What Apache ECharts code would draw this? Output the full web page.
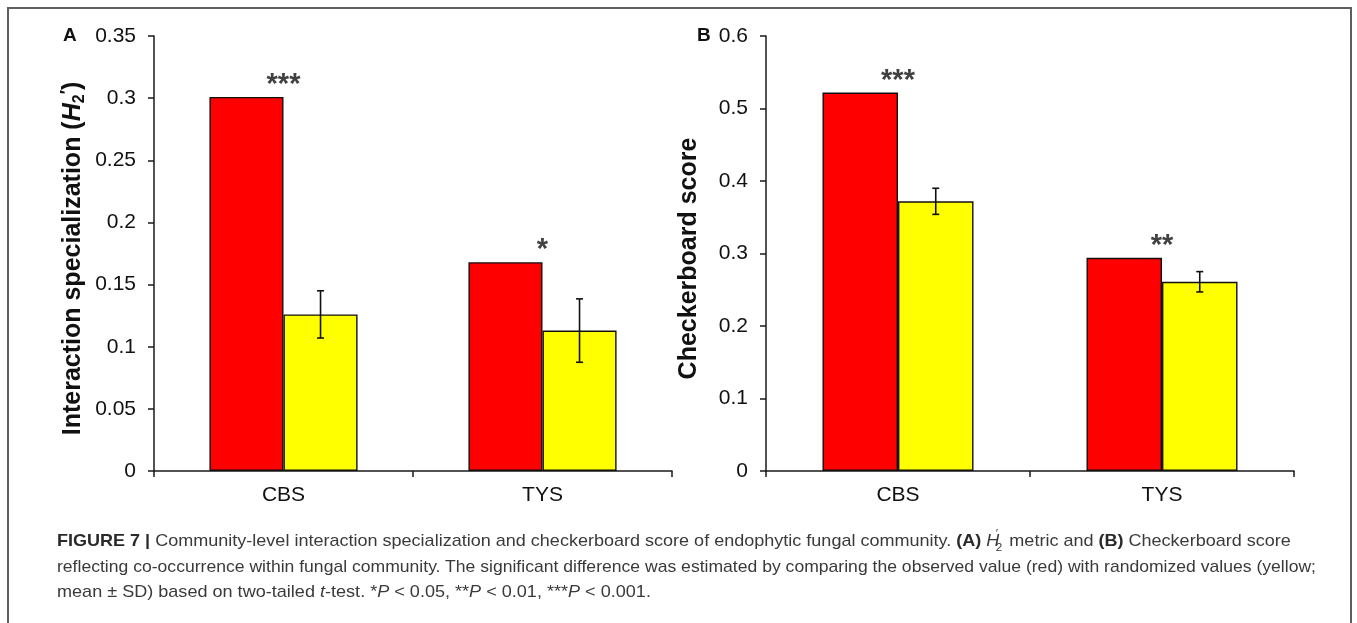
<!DOCTYPE html>
<html>
<head>
<meta charset="utf-8">
<script src="https://cdn.jsdelivr.net/npm/echarts@6/dist/echarts.min.js"></script>
<style>
  html, body { margin:0; padding:0; background:#fff; }
  #wrap { position:relative; width:1357px; height:623px; overflow:hidden; background:#fff; }
  #frame { position:absolute; left:7px; top:7px; width:1345px; height:720px; border:2px solid #5f5f5f; box-sizing:border-box; }
  #chart { position:absolute; left:0; top:0; width:1357px; height:623px; }
  .cap { position:absolute; left:57px; white-space:nowrap; font-family:"Liberation Sans Narrow","Liberation Sans",Arial,sans-serif; font-size:17px; line-height:20px; color:#3a3a3a; transform-origin:0 50%; }
  .cap b { color:#2a2a2a; }
  .h2 { position:relative; display:inline-block; }
  .h2 .s { position:absolute; left:9px; font-size:11px; line-height:11px; }
</style>
</head>
<body>
<div id="wrap">
  <div id="frame"></div>
  <div id="chart"></div>
  <div class="cap" id="cap1"><b>FIGURE 7 |</b> Community-level interaction specialization and checkerboard score of endophytic fungal community. <b>(A)</b> <span class="h2"><i>H</i>&nbsp;<span class="s" style="top:11px">2</span><span class="s" style="top:-3px">′</span></span> metric and <b>(B)</b> Checkerboard score</div>
  <div class="cap" id="cap2">reflecting co-occurrence within fungal community. The significant difference was estimated by comparing the observed value (red) with randomized values (yellow;</div>
  <div class="cap" id="cap3">mean ± SD) based on two-tailed <i>t</i>-test. *<i>P</i> &lt; 0.05, **<i>P</i> &lt; 0.01, ***<i>P</i> &lt; 0.001.</div>
</div>
<script>
// ---- data ----
const categories = ['CBS', 'TYS'];
// Panel A: interaction specialization (H2')
const observedA = [0.301, 0.168];
const randomA = [0.126, 0.113];
const sdA = [0.019, 0.0255];
const sigA = ['***', '*'];
// Panel B: checkerboard score
const observedB = [0.522, 0.294];
const randomB = [0.372, 0.261];
const sdB = [0.018, 0.014];
const sigB = ['***', '**'];

const BAR_FRAC = 0.286;
const FONT = '"Liberation Sans", Arial, sans-serif';

// caption line fitting (layout)
const capLayout = [
  { id: 'cap1', center: 541, width: 1234 },
  { id: 'cap2', center: 567, width: 1259 },
  { id: 'cap3', center: 592, width: 594 }
];
capLayout.forEach(c => {
  const el = document.getElementById(c.id);
  el.style.top = (c.center - 10) + 'px';
  const w = el.scrollWidth;
  el.style.transform = 'scaleX(' + (c.width / w) + ')';
});

const chart = echarts.init(document.getElementById('chart'), null, { renderer: 'canvas' });

function errRender(params, api) {
  const ci = api.value(0), v = api.value(1), sd = api.value(2);
  const c = api.coord([ci, v]);
  const bw = api.size([1, 0])[0] * BAR_FRAC;
  const x = c[0] + bw / 2;
  const yHi = api.coord([ci, v + sd])[1];
  const yLo = api.coord([ci, v - sd])[1];
  const st = { stroke: '#111', lineWidth: 1.6 };
  const cap = 3.5;
  return {
    type: 'group',
    children: [
      { type: 'line', shape: { x1: x, y1: yHi, x2: x, y2: yLo }, style: st },
      { type: 'line', shape: { x1: x - cap, y1: yHi, x2: x + cap, y2: yHi }, style: st },
      { type: 'line', shape: { x1: x - cap, y1: yLo, x2: x + cap, y2: yLo }, style: st }
    ]
  };
}

function xAxis(gi) {
  return {
    type: 'category', gridIndex: gi, data: categories,
    axisLine: { lineStyle: { color: '#1a1a1a', width: 1.5 } },
    axisTick: { show: true, inside: false, length: 6, lineStyle: { color: '#1a1a1a', width: 1.5 } },
    axisLabel: { fontSize: 21, color: '#111', fontFamily: FONT, margin: 14 },
    splitLine: { show: false }
  };
}
function yAxis(gi, max, interval, name, nameGap, rich) {
  return {
    type: 'value', gridIndex: gi, min: 0, max: max, interval: interval,
    name: name, nameLocation: 'middle', nameGap: nameGap, nameRotate: 90,
    nameTextStyle: { fontSize: 25, fontWeight: 'bold', color: '#111', fontFamily: FONT, lineHeight: 29, padding: [0, 10, 0, 0], rich: rich || {} },
    axisLine: { show: true, lineStyle: { color: '#1a1a1a', width: 1.5 } },
    axisTick: { show: true, inside: false, length: 6, lineStyle: { color: '#1a1a1a', width: 1.5 } },
    axisLabel: { fontSize: 21, color: '#111', fontFamily: FONT, margin: 18 },
    splitLine: { show: false }
  };
}

const richA = {
  i: { fontSize: 25, fontWeight: 'bold', fontStyle: 'italic', color: '#111', fontFamily: FONT, lineHeight: 29 },
  sub: { fontSize: 16, fontWeight: 'bold', color: '#111', fontFamily: FONT, lineHeight: 16, verticalAlign: 'bottom' },
  sup: { fontSize: 18, fontWeight: 'bold', color: '#111', fontFamily: FONT, lineHeight: 18, verticalAlign: 'top' }
};

function barSeries(gi, data, color) {
  return {
    type: 'bar', xAxisIndex: gi, yAxisIndex: gi, data: data,
    barWidth: (BAR_FRAC * 100) + '%', barGap: '0%',
    itemStyle: { color: color, borderColor: '#111', borderWidth: 1.4 },
    emphasis: { disabled: true }, z: 2
  };
}
function sigSeries(gi, values, sig) {
  return {
    type: 'scatter', xAxisIndex: gi, yAxisIndex: gi, data: values,
    symbolSize: 0, silent: true, z: 5,
    label: {
      show: true, position: 'top', distance: 0,
      formatter: p => sig[p.dataIndex],
      fontSize: 29, fontWeight: 'bold', color: '#111', fontFamily: FONT, lineHeight: 24
    }
  };
}
function errSeries(gi, means, sds) {
  return {
    type: 'custom', xAxisIndex: gi, yAxisIndex: gi,
    data: means.map((m, i) => [i, m, sds[i]]),
    renderItem: errRender, z: 4, silent: true
  };
}

const option = {
  animation: false,
  backgroundColor: 'transparent',
  textStyle: { fontFamily: FONT },
  grid: [
    { left: 154, top: 36, width: 518, height: 435 },
    { left: 766, top: 36, width: 528, height: 435 }
  ],
  xAxis: [xAxis(0), xAxis(1)],
  yAxis: [
    yAxis(0, 0.35, 0.05, 'Interaction specialization ({i|H}{sub|2}{sup|′})', 66, richA),
    yAxis(1, 0.6, 0.1, 'Checkerboard score', 62)
  ],
  graphic: [
    { type: 'text', left: 63, top: 26, style: { text: 'A', fontSize: 19, fontWeight: 'bold', fill: '#111', fontFamily: FONT } },
    { type: 'text', left: 697, top: 26, style: { text: 'B', fontSize: 19, fontWeight: 'bold', fill: '#111', fontFamily: FONT } }
  ],
  series: [
    barSeries(0, observedA, '#ff0000'),
    barSeries(0, randomA, '#ffff00'),
    errSeries(0, randomA, sdA),
    sigSeries(0, observedA, sigA),
    barSeries(1, observedB, '#ff0000'),
    barSeries(1, randomB, '#ffff00'),
    errSeries(1, randomB, sdB),
    sigSeries(1, observedB, sigB)
  ]
};
chart.setOption(option);
</script>
</body>
</html>
